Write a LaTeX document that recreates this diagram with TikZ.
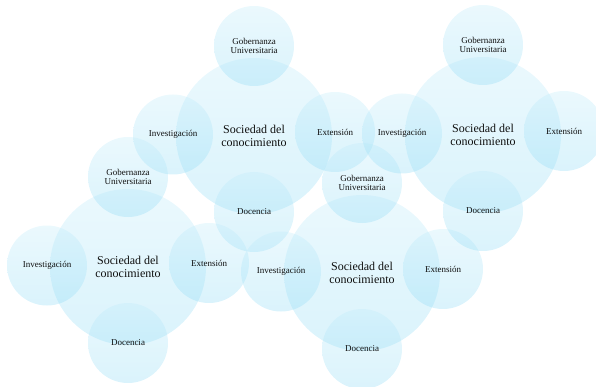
\documentclass[tikz,border=0pt]{standalone}
\usepackage{fontspec}
\setmainfont{Liberation Serif}
\definecolor{bubbletop}{RGB}{192,235,250}
\definecolor{bubblebottom}{RGB}{140,218,245}
\definecolor{inkdark}{RGB}{15,15,15}
\begin{document}
\begin{tikzpicture}[x=1pt,y=1pt,
  bubble/.style={circle, draw=none, inner sep=0pt, minimum size=#1,
    top color=bubbletop, bottom color=bubblebottom, fill opacity=0.32},
  hub/.style={bubble=156pt},
  spoke/.style={bubble=80pt},
  hubtext/.style={text=inkdark, align=center, inner sep=0pt,
    font=\fontsize{12}{12.5}\selectfont},
  spoketext/.style={text=inkdark, align=center, inner sep=0pt,
    font=\fontsize{9}{8.6}\selectfont}]
\useasboundingbox (0,0) rectangle (596,-387);

% centres of the four radial groups
\coordinate (A) at (254,-136);
\coordinate (B) at (128,-267);
\coordinate (C) at (362,-273);
\coordinate (D) at (483,-135);

% translucent bubbles
\foreach \k in {A,B,C,D} {
  \node[hub]   (\k-hub) at (\k) {};
  \node[spoke] (\k-gob) at ([shift={(0,90)}]\k) {};
  \node[spoke] (\k-inv) at ([shift={(-81,1.5)}]\k) {};
  \node[spoke] (\k-ext) at ([shift={(81,4)}]\k) {};
  \node[spoke] (\k-doc) at ([shift={(0,-76)}]\k) {};
}

% labels on top of every bubble
\foreach \k in {A,B,C,D} {
  \node[hubtext]   (\k-hub-t) at (\k-hub) {Sociedad del\\conocimiento};
  \node[spoketext] (\k-gob-t) at (\k-gob) {Gobernanza\\Universitaria};
  \node[spoketext] (\k-inv-t) at (\k-inv) {Investigación};
  \node[spoketext] (\k-ext-t) at (\k-ext) {Extensión};
  \node[spoketext] (\k-doc-t) at (\k-doc) {Docencia};
}
\end{tikzpicture}
\end{document}
